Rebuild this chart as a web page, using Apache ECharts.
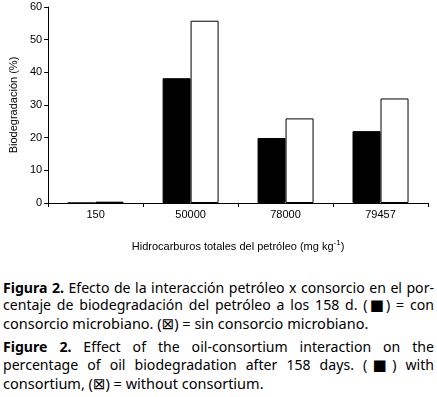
<!DOCTYPE html>
<html>

<head>
    <title>Biodegradacion</title>
    <meta charset="utf-8">
    <script src="https://cdn.jsdelivr.net/npm/echarts@6/dist/echarts.min.js"></script>
    <style>
        body { margin: 0; background: #fff; }
        #wrap { position: relative; width: 437px; height: 397px; overflow: hidden; }
        #main { position: absolute; left: 0; top: 0; width: 437px; height: 262px; }
        .cap { position: absolute; left: 3px; width: 431px; height: 18px; line-height: 18px;
               font-family: "Noto Sans", sans-serif; font-size: 14.5px; color: #000; white-space: nowrap; }
        .just { text-align: justify; text-align-last: justify; white-space: normal; font-size: 14.1px; }
        .cap b { font-weight: bold; }
        .sym { font-family: "DejaVu Sans", sans-serif; font-size: 15px; }
    </style>
</head>

<body>
    <div id="wrap">
        <div id="main"></div>
        <div class="cap just" style="top:279px"><b>Figura 2.</b> Efecto de la interacción petróleo x consorcio en el por-</div>
        <div class="cap just" style="top:296px">centaje de biodegradación del petróleo a los 158 d. (<span class="sym">■</span>) = con</div>
        <div class="cap" style="top:314px">consorcio microbiano. (<span class="sym">⊠</span>) = sin consorcio microbiano.</div>
        <div class="cap just" style="top:338px"><b>Figure 2.</b> Effect of the oil-consortium interaction on the</div>
        <div class="cap just" style="top:356px">percentage of oil biodegradation after 158 days. (<span class="sym">■</span>) with</div>
        <div class="cap" style="top:374px">consortium, (<span class="sym">⊠</span>) = without consortium.</div>
    </div>

    <script type="text/javascript">
        // data
        var categories = ['150', '50000', '78000', '79457'];
        var conConsorcio = [0, 38.2, 19.9, 22.0];   // black bars
        var sinConsorcio = [0.4, 55.8, 25.9, 32.0]; // white bars
        var yTicks = { min: 0, max: 60, interval: 10 };

        var myChart = echarts.init(document.getElementById('main'));

        var axisFont = { fontFamily: 'Liberation Sans, Arial, sans-serif', fontSize: 11, color: '#000' };

        var option = {
            animation: false,
            grid: { left: 46, right: 9, top: 7, bottom: 59 },
            xAxis: {
                type: 'category',
                data: categories,
                axisLine: { lineStyle: { color: '#000', width: 1 } },
                axisTick: { show: true, length: 4, lineStyle: { color: '#000' } },
                axisLabel: Object.assign({ margin: 6 }, axisFont),
                name: '{a|Hidrocarburos totales del petróleo (mg kg}{s|-1}{a|)}',
                nameLocation: 'middle',
                nameGap: 36,
                nameTextStyle: {
                    rich: {
                        a: axisFont,
                        s: { fontFamily: axisFont.fontFamily, fontSize: 8, color: '#000', padding: [0, 0, 7, 0] }
                    }
                }
            },
            yAxis: {
                type: 'value',
                min: yTicks.min,
                max: yTicks.max,
                interval: yTicks.interval,
                splitLine: { show: false },
                axisLine: { show: true, lineStyle: { color: '#000', width: 1 } },
                axisTick: { show: true, length: 4, lineStyle: { color: '#000' } },
                axisLabel: Object.assign({ margin: 6 }, axisFont),
                name: 'Biodegradación (%)',
                nameLocation: 'middle',
                nameGap: 28,
                nameTextStyle: axisFont
            },
            series: [{
                name: 'con consorcio',
                type: 'bar',
                data: conConsorcio,
                barWidth: 28,
                barGap: '0%',
                itemStyle: { color: '#000', borderColor: '#000', borderWidth: 1 }
            }, {
                name: 'sin consorcio',
                type: 'bar',
                data: sinConsorcio,
                barWidth: 28,
                itemStyle: { color: '#fff', borderColor: '#000', borderWidth: 1 }
            }]
        };

        myChart.setOption(option);
    </script>
</body>

</html>
